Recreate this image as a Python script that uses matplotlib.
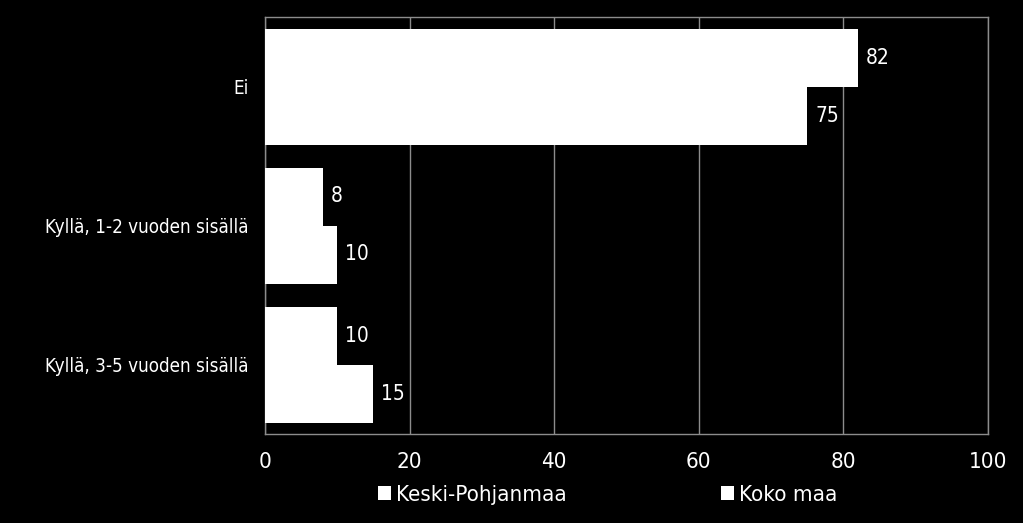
import matplotlib
matplotlib.use("Agg")
import matplotlib.pyplot as plt
import numpy as np

categories = ["Ei", "Kyllä, 1-2 vuoden sisällä", "Kyllä, 3-5 vuoden sisällä"]
series_names = ["Keski-Pohjanmaa", "Koko maa"]
keski_pohjanmaa = [82, 8, 10]
koko_maa = [75, 10, 15]
xticks = [0, 20, 40, 60, 80, 100]

plt.rcParams['font.family'] = ['DejaVu Sans']
fig = plt.figure(figsize=(10.23, 5.23), dpi=100, facecolor='black')
ax = fig.add_axes([265/1023, 1-434/523, (988-265)/1023, (434-17)/523], facecolor='black')

n = len(categories)
y = np.arange(n)
h = 58/139
for i, (name, vals) in enumerate(zip(series_names, [keski_pohjanmaa, koko_maa])):
    offs = -h/2 if i == 0 else h/2
    bars = ax.barh(y + offs, vals, height=h, color='white', edgecolor='none', label=name, zorder=3)
    for b, v in zip(bars, vals):
        ax.text(v + 1.1, b.get_y() + b.get_height()/2, f"{v}", color='white',
                fontsize=15, va='center', ha='left', fontstretch='condensed', zorder=4)

ax.set_ylim(n - 0.5, -0.5)
ax.set_xlim(0, 100)
ax.set_xticks(xticks)
ax.set_xticklabels([str(t) for t in xticks], color='white', fontsize=16, fontstretch='condensed')
ax.set_yticks(y)
ax.set_yticklabels(categories, color='white', fontsize=13.5, fontstretch='condensed')
ax.tick_params(axis='y', length=0, pad=12)
ax.tick_params(axis='x', length=0, pad=13)
ax.grid(axis='x', color='#8c8c8c', linewidth=1.0, zorder=1)
for s in ax.spines.values():
    s.set_color('#8c8c8c')
    s.set_linewidth(1.0)

leg = fig.legend(loc='center', bbox_to_anchor=(0.594, 1-495/523), ncol=2,
                 frameon=False, prop={'size': 16, 'stretch': 'condensed'},
                 handlelength=0.6, handleheight=0.6,
                 handletextpad=0.25, columnspacing=6.9)
for t in leg.get_texts():
    t.set_color('white')

fig.savefig("out.png", dpi=100, facecolor='black')
